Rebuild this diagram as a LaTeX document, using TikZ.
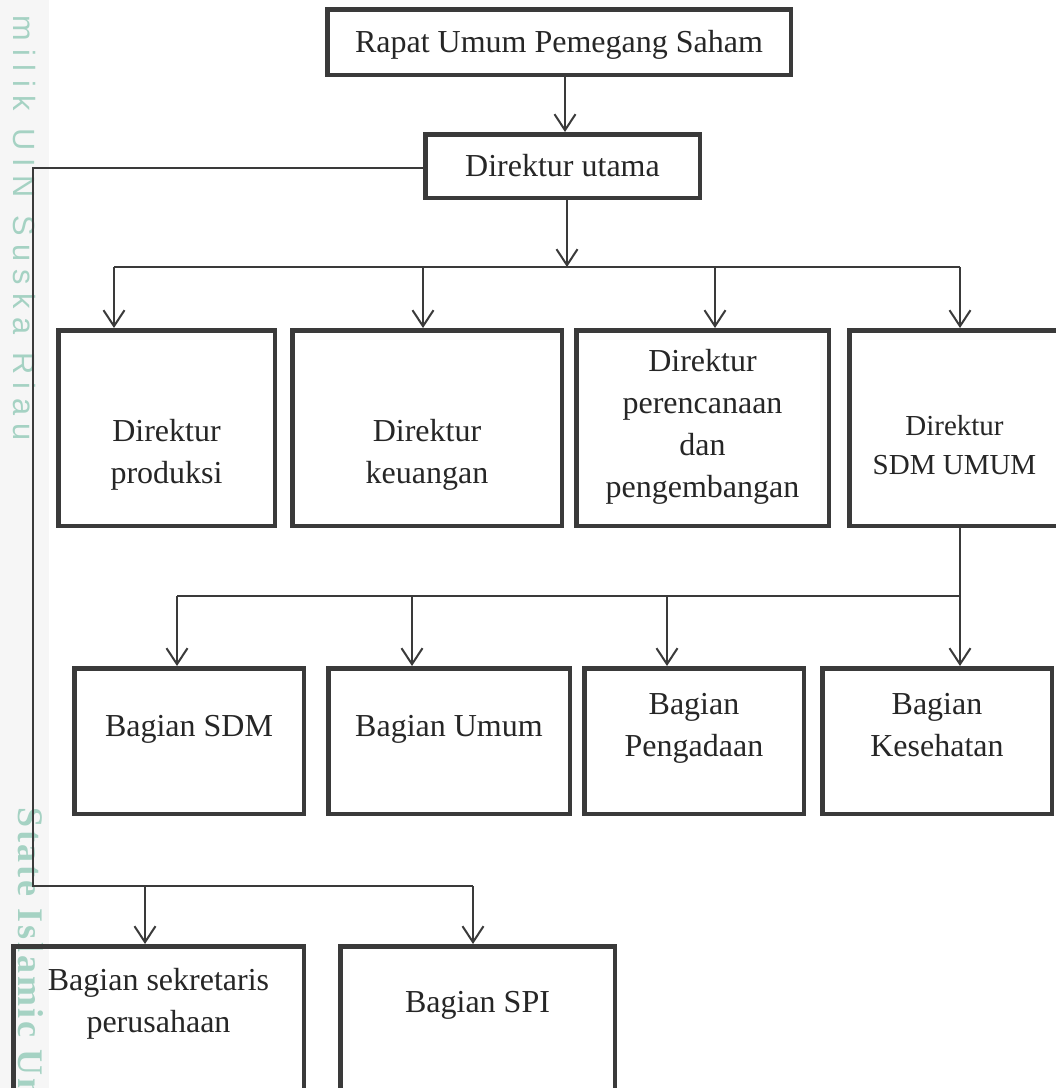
\documentclass[tikz,border=0pt]{standalone}
\usepackage{fontspec}
\setmainfont{Liberation Serif}
\newfontfamily\wmsans[LetterSpace=28]{Liberation Sans}
\newfontfamily\wmserif[LetterSpace=8]{Liberation Serif}
\usetikzlibrary{arrows.meta}
\definecolor{ink}{HTML}{3A3A3A}
\definecolor{txt}{HTML}{262626}
\definecolor{wm}{RGB}{165,210,195}
\definecolor{strip}{HTML}{F6F6F6}
\begin{document}
\begin{tikzpicture}[x=1pt,y=-1pt,
  box/.style={draw=ink,line width=4.5pt,inner sep=0pt},
  lbl/.style={anchor=north,inner sep=0pt,align=center,text=txt,font=\fontsize{32}{42}\selectfont},
  lblsmall/.style={anchor=north,inner sep=0pt,align=center,text=txt,font=\fontsize{29}{39}\selectfont},
  ln/.style={draw=ink,line width=2pt},
  arr/.style={draw=ink,line width=2pt,-{Straight Barb[length=16pt,width=21pt]}},
  wmark/.style={text=wm,inner sep=0pt,rotate=-90,anchor=base west}]
\path[use as bounding box] (0,0) rectangle (1056,1088);
\begin{scope}
\clip (0,0) rectangle (1056,1088);
\fill[white] (0,0) rectangle (1056,1088);
\fill[strip] (0,0) rectangle (49,1088);
% watermark
\node[wmark,font={\wmsans\fontsize{30.7}{36}\selectfont}] (wm1) at (13,15) {milik UIN Suska Riau};
\node[wmark,font={\wmserif\bfseries\fontsize{36}{42}\selectfont}] (wm2) at (18,807) {State Islamic Uni};
% boxes
\node[box,minimum width=463.5pt,minimum height=65.5pt,text height=24pt,text depth=4pt,text=txt,font=\fontsize{32}{42}\selectfont] (top) at (559,42) {Rapat Umum Pemegang Saham};
\node[box,minimum width=274.5pt,minimum height=63.5pt,text height=24pt,text depth=4pt,text=txt,font=\fontsize{32}{42}\selectfont] (du) at (562.5,166) {Direktur utama};
\node[box,minimum width=216.5pt,minimum height=195.5pt] (r1a) at (166.5,428) {};
\node[box,minimum width=269.5pt,minimum height=195.5pt] (r1b) at (427,428) {};
\node[box,minimum width=252.5pt,minimum height=195.5pt] (r1c) at (702.5,428) {};
\node[box,minimum width=210.5pt,minimum height=195.5pt] (r1d) at (954.5,428) {};
\node[box,minimum width=229.5pt,minimum height=145.5pt] (r2a) at (189,741) {};
\node[box,minimum width=241.5pt,minimum height=145.5pt] (r2b) at (449,741) {};
\node[box,minimum width=219.5pt,minimum height=145.5pt] (r2c) at (694,741) {};
\node[box,minimum width=229.5pt,minimum height=145.5pt] (r2d) at (937,741) {};
\node[box,minimum width=290.5pt,minimum height=151.5pt] (r3a) at (158.5,1022) {};
\node[box,minimum width=274.5pt,minimum height=151.5pt] (r3b) at (477.5,1022) {};
% labels
\node[lbl] (t1a) at (166.5,411.6) {\strut Direktur\\\strut produksi};
\node[lbl] (t1b) at (427,411.6) {\strut Direktur\\\strut keuangan};
\node[lbl] (t1c) at (702.5,341.6) {\strut Direktur\\\strut perencanaan\\\strut dan\\\strut pengembangan};
\node[lblsmall] (t1d) at (954.5,407.7) {\strut Direktur\\\strut SDM UMUM};
\node[lbl] (t2a) at (189,706.6) {\strut Bagian SDM};
\node[lbl] (t2b) at (449,706.6) {\strut Bagian Umum};
\node[lbl] (t2c) at (694,684.6) {\strut Bagian\\\strut Pengadaan};
\node[lbl] (t2d) at (937,684.6) {\strut Bagian\\\strut Kesehatan};
\node[lbl] (t3a) at (158.5,960.6) {\strut Bagian sekretaris\\\strut perusahaan};
\node[lbl] (t3b) at (477.5,982.6) {\strut Bagian SPI};
% connectors
\coordinate (a0) at (565,0);
\draw[arr] (a0 |- top.south) -- (a0 |- du.north);
\coordinate (bus1) at (567,267);
\draw[arr] (bus1 |- du.south) -- (bus1);
\coordinate (b1a) at (114,267);
\coordinate (b1b) at (423,267);
\coordinate (b1c) at (715,267);
\coordinate (b1d) at (960,267);
\draw[ln] (b1a) -- (b1d);
\draw[arr] (b1a) -- (b1a |- r1a.north);
\draw[arr] (b1b) -- (b1b |- r1b.north);
\draw[arr] (b1c) -- (b1c |- r1c.north);
\draw[arr] (b1d) -- (b1d |- r1d.north);
\coordinate (b2a) at (177,596);
\coordinate (b2b) at (412,596);
\coordinate (b2c) at (667,596);
\coordinate (b2d) at (960,596);
\draw[arr] (b2d |- r1d.south) -- (b2d |- r2d.north);
\draw[ln] (b2a) -- (b2d);
\draw[arr] (b2a) -- (b2a |- r2a.north);
\draw[arr] (b2b) -- (b2b |- r2b.north);
\draw[arr] (b2c) -- (b2c |- r2c.north);
\coordinate (L1) at (33,168);
\coordinate (L2) at (33,886);
\coordinate (b3a) at (145,886);
\coordinate (b3b) at (473,886);
\draw[ln] (L1 -| du.west) -- (L1) -- (L2) -- (b3b);
\draw[arr] (b3a) -- (b3a |- r3a.north);
\draw[arr] (b3b) -- (b3b |- r3b.north);
\end{scope}
\end{tikzpicture}
\end{document}
